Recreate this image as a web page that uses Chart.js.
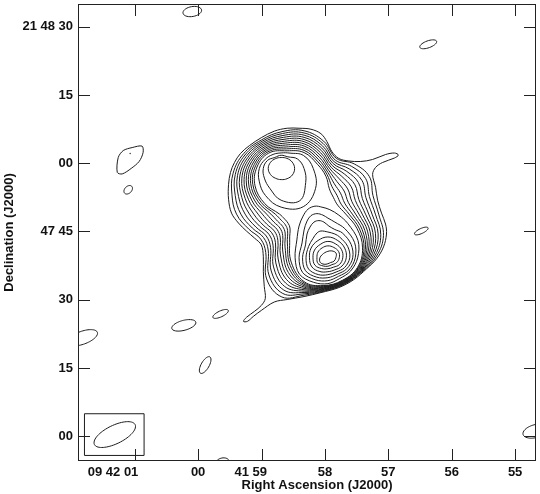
<!DOCTYPE html>
<html>
<head>
<meta charset="utf-8">
<script src="https://cdn.jsdelivr.net/npm/chart.js@4.4.1/dist/chart.umd.min.js"></script>
<style>
  html, body { margin: 0; padding: 0; background: #fff; }
</style>
</head>
<body>
<canvas id="chartCanvas" width="540" height="494"></canvas>
<script>
// positions are offsets in arcsec (east, north) from RA 09 41 58.0, Dec +21 47 45 (J2000)

// axis ticks
const raTicks = [41.79, 27.86, 13.93, 0, -13.93, -27.86, -41.79];
const raLabels = ['09 42 01', '00', '41 59', '58', '57', '56', '55'];
const decTicks = [45, 30, 15, 0, -15, -30, -45];
const decLabels = ['21 48 30', '15', '00', '47 45', '30', '15', '00'];

// lowest contour, traced point by point (has the NE and SW tails)
const outerContour = [
  [5.68, 22.70], [3.06, 22.48], [0.87, 21.50], [-0.44, 19.76], [-1.53, 17.57], [-3.06, 16.05],
  [-5.24, 15.50], [-7.86, 15.39], [-10.48, 15.83], [-13.32, 16.92], [-15.28, 17.25], [-16.15, 16.81],
  [-15.28, 16.15], [-12.66, 15.17], [-11.13, 14.08], [-10.48, 12.55], [-11.13, 9.71], [-11.57, 6.88],
  [-12.44, 4.04], [-13.32, 1.64], [-13.53, -0.55], [-12.88, -3.38], [-11.35, -6.00], [-9.17, -8.19],
  [-6.33, -10.59], [-3.06, -12.33], [0.87, -13.43], [4.58, -14.30], [8.30, -14.95], [11.13, -15.50],
  [13.97, -17.35], [15.72, -18.66], [17.03, -19.76], [17.90, -19.76], [17.25, -18.88], [15.50, -17.57],
  [13.97, -16.26], [13.10, -14.74], [13.32, -12.12], [13.53, -8.84], [13.53, -5.57], [13.97, -2.95],
  [15.50, -1.42], [17.25, 0.11], [18.99, 1.86], [20.52, 4.04], [21.17, 7.09], [21.17, 10.37],
  [20.74, 12.99], [19.87, 15.17], [18.56, 17.14], [16.59, 18.88], [13.97, 20.63], [11.13, 22.05], [8.30, 22.70]
];

// contours 2..12 around the whole source: radius (arcsec) along position angles PA24
const PA24 = [0, 15, 30, 45, 60, 75, 90, 105, 120, 135, 150, 165, 180, 195, 210, 225, 240, 255, 270, 285, 300, 315, 330, 345];
const mainCentre = [4.58, 3.82];
const mainLevels = [
  [18.32, 18.77, 18.81, 18.79, 18.00, 16.40, 14.84, 12.61, 10.99, 11.91, 16.45, 18.86, 17.82, 17.50, 17.80, 17.98, 18.41, 18.06, 16.39, 15.68, 16.55, 15.60, 14.17, 16.61],
  [17.84, 18.34, 18.48, 18.38, 17.45, 15.65, 13.89, 11.78, 10.29, 11.15, 15.44, 18.06, 17.52, 17.37, 17.70, 17.84, 18.06, 17.45, 15.67, 14.87, 15.63, 14.82, 13.72, 16.09],
  [17.36, 17.90, 18.15, 17.96, 16.89, 14.90, 12.95, 10.96, 9.60, 10.40, 14.43, 17.27, 17.23, 17.25, 17.60, 17.70, 17.70, 16.85, 14.94, 14.07, 14.72, 14.05, 13.26, 15.56],
  [16.88, 17.47, 17.82, 17.54, 16.33, 14.16, 12.00, 10.13, 8.90, 9.65, 13.41, 16.47, 16.93, 17.12, 17.50, 17.56, 17.34, 16.24, 14.22, 13.26, 13.81, 13.28, 12.81, 15.04],
  [16.40, 17.03, 17.49, 17.13, 15.78, 13.41, 11.06, 9.31, 8.21, 8.89, 12.40, 15.68, 16.63, 17.00, 17.40, 17.42, 16.98, 15.64, 13.50, 12.46, 12.90, 12.50, 12.35, 14.51],
  [15.93, 16.59, 17.15, 16.71, 15.22, 12.67, 10.11, 8.49, 7.51, 8.14, 11.39, 14.89, 16.33, 16.88, 17.31, 17.29, 16.63, 15.03, 12.78, 11.66, 11.98, 11.73, 11.89, 13.98],
  [15.45, 16.16, 16.82, 16.30, 14.67, 11.92, 9.17, 7.66, 6.82, 7.39, 10.38, 14.09, 16.03, 16.75, 17.21, 17.15, 16.27, 14.43, 12.06, 10.85, 11.07, 10.95, 11.44, 13.46],
  [14.97, 15.72, 16.49, 15.88, 14.11, 11.18, 8.22, 6.84, 6.12, 6.63, 9.37, 13.30, 15.73, 16.63, 17.11, 17.01, 15.91, 13.82, 11.33, 10.05, 10.16, 10.18, 10.98, 12.93],
  [14.49, 15.28, 16.16, 15.46, 13.55, 10.43, 7.28, 6.02, 5.43, 5.88, 8.36, 12.50, 15.44, 16.51, 17.01, 16.87, 15.55, 13.22, 10.61, 9.25, 9.24, 9.41, 10.53, 12.40],
  [14.01, 14.85, 15.83, 15.05, 13.00, 9.69, 6.33, 5.19, 4.73, 5.12, 7.34, 11.71, 15.14, 16.38, 16.91, 16.73, 15.20, 12.61, 9.89, 8.44, 8.33, 8.63, 10.07, 11.88],
  [13.53, 14.41, 15.50, 14.63, 12.44, 8.95, 5.39, 4.37, 4.04, 4.37, 6.33, 10.92, 14.84, 16.26, 16.81, 16.59, 14.84, 12.01, 9.17, 7.64, 7.42, 7.86, 9.61, 11.35]
];

// northern peak rings, radius along PA12
const PA12 = [0, 30, 60, 90, 120, 150, 180, 210, 240, 270, 300, 330];
const northCentre = [9.61, 13.86];
const northRings = [
  [3.41, 3.56, 4.04, 4.80, 5.57, 6.88, 8.51, 9.71, 8.73, 7.05, 5.68, 3.89],
  [2.90, 2.79, 3.49, 3.93, 4.26, 5.02, 6.99, 8.19, 6.22, 5.02, 4.15, 2.95],
  [2.40, 2.49, 2.70, 2.84, 2.70, 2.49, 2.45, 2.60, 2.85, 2.95, 2.80, 2.55]
];

// southern peak: contours with the northward finger, traced
const southFinger = [
  [[2.18, 5.57], [0.65, 5.35], [-1.09, 4.80], [-3.06, 3.60], [-5.02, 1.77], [-7.27, -1.96], [-7.20, -5.78], [-5.65, -8.68], [-3.27, -10.33], [-0.65, -11.46], [2.46, -11.18], [5.59, -9.39], [6.55, -5.78], [6.16, -1.86], [5.68, 1.20], [4.80, 3.38], [3.71, 4.91]],
  [[1.75, 3.93], [0.44, 3.60], [-0.65, 2.95], [-2.18, 2.07], [-4.37, 0.63], [-6.51, -2.40], [-6.66, -5.78], [-5.28, -8.46], [-3.00, -9.85], [-0.65, -10.81], [2.13, -10.61], [4.91, -9.00], [5.68, -5.78], [5.02, -2.51], [4.58, 0.33], [3.93, 2.29], [3.06, 3.49]],
  [[1.31, 2.40], [0.22, 2.07], [-0.87, 1.20], [-2.18, 0.44], [-3.82, -0.31], [-5.76, -2.84], [-6.11, -5.78], [-4.81, -8.19], [-2.73, -9.39], [-0.65, -10.15], [1.80, -10.04], [4.26, -8.62], [4.91, -5.78], [4.26, -2.95], [3.93, -0.55], [3.27, 0.98], [2.40, 2.07]],
  [[0.87, 0.11], [-0.65, -0.11], [-2.18, -0.55], [-3.27, -1.24], [-5.00, -3.27], [-5.46, -5.78], [-4.34, -7.91], [-2.46, -8.91], [-0.65, -9.50], [1.47, -9.47], [3.60, -8.24], [4.15, -5.78], [3.60, -3.33], [2.62, -1.53], [1.75, -0.33]]
];

// southern peak rings, radius along PA12
const southCentre = [-0.65, -5.78];
const southRings = [
  [4.58, 4.37, 4.26, 4.04, 4.04, 3.49, 3.06, 3.06, 3.60, 4.04, 4.26, 4.37],
  [3.60, 3.38, 3.38, 3.27, 3.27, 2.73, 2.40, 2.40, 2.95, 3.27, 3.49, 3.49],
  [2.62, 2.51, 2.51, 2.40, 2.51, 2.07, 1.86, 1.75, 2.18, 2.51, 2.73, 2.62],
  [1.42, 1.31, 1.42, 1.75, 1.96, 1.64, 1.31, 1.20, 1.53, 1.75, 2.07, 1.75]
];

// isolated low-level contours: [east, north, semi-major, semi-minor, PA]
const noiseBlobs = [
  [29.14, 48.35, 2.07, 1.09, 280],
  [-22.70, 41.15, 1.96, 0.76, 290],
  [43.22, 9.17, 1.09, 0.76, 315],
  [-21.18, 0.11, 1.64, 0.55, 295],
  [53.27, -23.36, 3.49, 1.42, 290],
  [31.00, -20.63, 2.73, 1.09, 285],
  [22.92, -18.12, 1.86, 0.65, 295],
  [26.31, -29.36, 2.07, 0.87, 330],
  [22.48, -50.65, 1.42, 0.87, 280],
  [-46.28, -43.88, 2.84, 1.42, 285]
];
const westPatch = [[45.62, 12.99], [45.41, 16.26], [44.31, 17.79], [42.35, 18.45], [40.17, 18.77], [39.95, 17.35], [40.82, 15.39], [42.57, 13.86], [44.53, 12.66]];
const westDot = [42.79, 17.14];

// restoring beam and its box
const beam = [46.17, -44.64, 4.98, 2.02, 296];
const beamBox = [[52.83, -40.06], [39.73, -40.06], [39.73, -49.23], [52.83, -49.23]];

const D2R = Math.PI / 180;

function fromPolar(c, pa, r) {
  return pa.map((a, i) => ({ x: c[0] + r[i] * Math.sin(a * D2R), y: c[1] + r[i] * Math.cos(a * D2R) }));
}
function fromList(list) {
  return list.map(p => ({ x: p[0], y: p[1] }));
}
function fromEllipse(e) {
  const [cx, cy, a, b, pa] = e;
  const ux = Math.sin(pa * D2R), uy = Math.cos(pa * D2R);
  const pts = [];
  for (let k = 0; k < 36; k++) {
    const t = k * 10 * D2R;
    const u = a * Math.cos(t), v = b * Math.sin(t);
    pts.push({ x: cx + u * ux + v * uy, y: cy + u * uy - v * ux });
  }
  return pts;
}

const lineColour = '#1c1c1c';
function contour(points, extra) {
  return Object.assign({
    data: points, showLine: true, closed: true, pointRadius: 0,
    borderColor: lineColour, borderWidth: 1, tension: 0.4, fill: false
  }, extra || {});
}

const datasets = [];
datasets.push(contour(fromList(outerContour), { tension: 0.35 }));
mainLevels.forEach(r => datasets.push(contour(fromPolar(mainCentre, PA24, r))));
northRings.forEach(r => datasets.push(contour(fromPolar(northCentre, PA12, r))));
southFinger.forEach(p => datasets.push(contour(fromList(p), { tension: 0.35 })));
southRings.forEach(r => datasets.push(contour(fromPolar(southCentre, PA12, r))));
noiseBlobs.forEach(e => datasets.push(contour(fromEllipse(e))));
datasets.push(contour(fromList(westPatch), { tension: 0.3 }));
datasets.push({ data: [{ x: westDot[0], y: westDot[1] }], showLine: false, pointRadius: 0.8, pointBackgroundColor: '#444', pointBorderWidth: 0 });
datasets.push(contour(fromEllipse(beam)));
datasets.push(contour(fromList(beamBox), { tension: 0 }));

// let the line element close each contour smoothly
const closeLoops = {
  id: 'closeLoops',
  afterDatasetsUpdate(chart) {
    chart.data.datasets.forEach((ds, i) => {
      const meta = chart.getDatasetMeta(i);
      if (ds.closed && meta.dataset) {
        meta.dataset._loop = true;
        meta.dataset._fullLoop = true;
      }
    });
  }
};

// frame, inward ticks on all four sides, x title
const frame = {
  id: 'frame',
  afterDraw(chart) {
    const { ctx, chartArea: a, scales: { x, y } } = chart;
    ctx.save();
    ctx.strokeStyle = '#222';
    ctx.lineWidth = 1;
    ctx.strokeRect(a.left + 0.5, a.top + 0.5, a.right - a.left - 1, a.bottom - a.top - 1);
    ctx.beginPath();
    raTicks.forEach(v => {
      const px = Math.round(x.getPixelForValue(v)) + 0.5;
      ctx.moveTo(px, a.bottom); ctx.lineTo(px, a.bottom - 12);
      ctx.moveTo(px, a.top); ctx.lineTo(px, a.top + 12);
    });
    decTicks.forEach(v => {
      const py = Math.round(y.getPixelForValue(v)) + 0.5;
      ctx.moveTo(a.left, py); ctx.lineTo(a.left + 12, py);
      ctx.moveTo(a.right, py); ctx.lineTo(a.right - 12, py);
    });
    ctx.stroke();
    ctx.fillStyle = '#111';
    ctx.font = 'bold 13px "Liberation Sans", Arial, Helvetica, sans-serif';
    ctx.textAlign = 'center';
    ctx.textBaseline = 'middle';
    ctx.fillText('Right Ascension (J2000)', (a.left + a.right) / 2 + 10, 485);
    ctx.restore();
  }
};

Chart.defaults.font.family = '"Liberation Sans", Arial, Helvetica, sans-serif';
Chart.defaults.color = '#111';

// the sexagesimal labels sit with their last field on the tick
const raPad = [12, 0, 6, 0, 0, 0, 0];

const canvas = document.getElementById('chartCanvas');
new Chart(canvas.getContext('2d'), {
  type: 'scatter',
  data: { datasets },
  options: {
    responsive: false,
    animation: false,
    devicePixelRatio: 1,
    events: [],
    layout: { padding: { top: 0, right: 2, bottom: 0, left: 0 } },
    plugins: { legend: { display: false }, tooltip: { enabled: false } },
    scales: {
      x: {
        type: 'linear', reverse: true, min: -46.38, max: 54.25,
        grid: { display: false, drawTicks: false }, border: { display: false },
        afterBuildTicks: s => { s.ticks = raTicks.map(v => ({ value: v })); },
        afterFit: s => { s.height = 33; s.paddingLeft = 0; s.paddingRight = 0; },
        ticks: {
          autoSkip: false, maxRotation: 0, minRotation: 0, padding: 4,
          font: { size: 13, weight: 'bold' },
          callback: (v, i) => raLabels[i] + ' '.repeat(raPad[i])
        }
      },
      y: {
        type: 'linear', min: -50.45, max: 50.01,
        grid: { display: false, drawTicks: false }, border: { display: false },
        afterBuildTicks: s => { s.ticks = decTicks.map(v => ({ value: v })); },
        afterFit: s => { s.width = 78; s.paddingTop = 0; s.paddingBottom = 0; },
        ticks: {
          autoSkip: false, padding: 5,
          font: { size: 13, weight: 'bold' },
          callback: (v, i) => decLabels[i]
        },
        title: {
          display: true, text: 'Declination (J2000)',
          font: { size: 13, weight: 'bold' }, padding: { top: 2, bottom: 0 }
        }
      }
    }
  },
  plugins: [closeLoops, frame]
});
</script>
</body>
</html>
